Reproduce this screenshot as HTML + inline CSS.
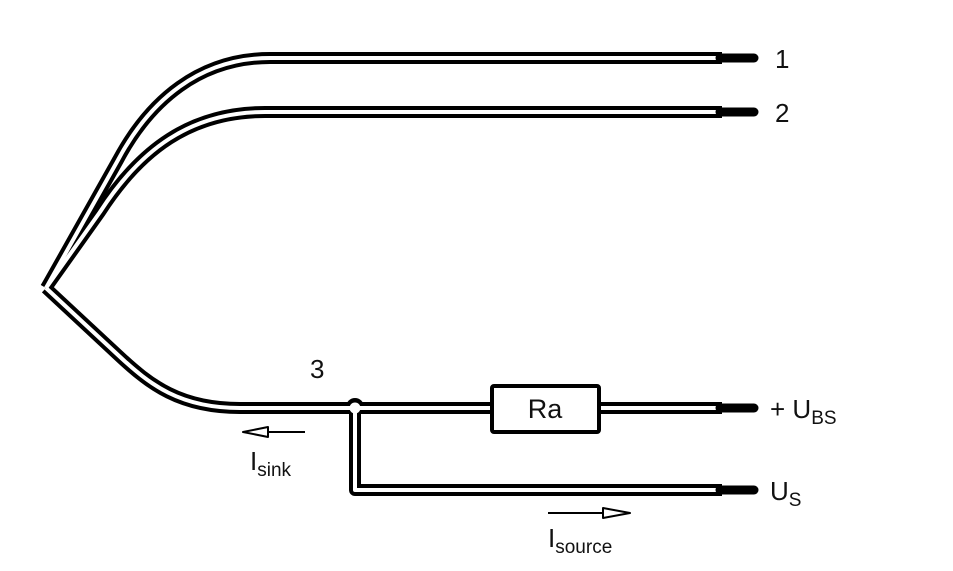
<!DOCTYPE html>
<html><head><style>
html,body{margin:0;padding:0;background:#fff;}
svg{display:block;}
text{font-family:"Liberation Sans",sans-serif;fill:#111;}
</style></head><body>
<svg width="953" height="571" viewBox="0 0 953 571" xmlns="http://www.w3.org/2000/svg">
<g fill="none" stroke-linejoin="round">
  <g stroke="#000" stroke-width="12">
    <path d="M46,288 L118,160 C150,100 200,58 270,58 L722,58"/>
    <path d="M46,288 L100,212 C140,150 190,112 265,112 L722,112"/>
    <path d="M46,288 L118,355 C150,385 180,408 240,408 L722,408"/>
    <path d="M355,408 L355,490 L722,490"/>
  </g>
  <circle cx="355" cy="407" r="9" fill="#000"/>
  <g stroke="#fff" stroke-width="4">
    <path d="M46,288 L118,160 C150,100 200,58 270,58 L722,58"/>
    <path d="M46,288 L100,212 C140,150 190,112 265,112 L722,112"/>
    <path d="M46,288 L118,355 C150,385 180,408 240,408 L722,408"/>
    <path d="M355,408 L355,490 L722,490"/>
  </g>
  <circle cx="355" cy="408" r="5.5" fill="#fff"/>
  <g stroke="#000" stroke-width="9" stroke-linecap="round">
    <line x1="720" y1="58" x2="754" y2="58"/>
    <line x1="720" y1="112" x2="754" y2="112"/>
    <line x1="720" y1="408" x2="754" y2="408"/>
    <line x1="720" y1="490" x2="754" y2="490"/>
  </g>
  <rect x="492" y="386" width="107" height="46" rx="2" fill="#fff" stroke="#000" stroke-width="4"/>
  <g stroke="#000" stroke-width="2">
    <line x1="265" y1="432" x2="305" y2="432"/>
    <polygon points="243,432 268,427 268,437" fill="#fff"/>
    <line x1="548" y1="513" x2="605" y2="513"/>
    <polygon points="630,513 603,508 603,518" fill="#fff"/>
  </g>
</g>
<text x="545" y="418" font-size="27" text-anchor="middle">Ra</text>
<text x="775" y="68" font-size="26">1</text>
<text x="775" y="122" font-size="26">2</text>
<text x="310" y="378" font-size="26">3</text>
<text x="770" y="418" font-size="26">+ U<tspan font-size="19" dy="6">BS</tspan></text>
<text x="770" y="500" font-size="26">U<tspan font-size="19" dy="6">S</tspan></text>
<text x="250" y="470" font-size="26">I<tspan font-size="19" dy="6">sink</tspan></text>
<text x="548" y="547" font-size="26">I<tspan font-size="19" dy="6">source</tspan></text>
</svg>
</body></html>
